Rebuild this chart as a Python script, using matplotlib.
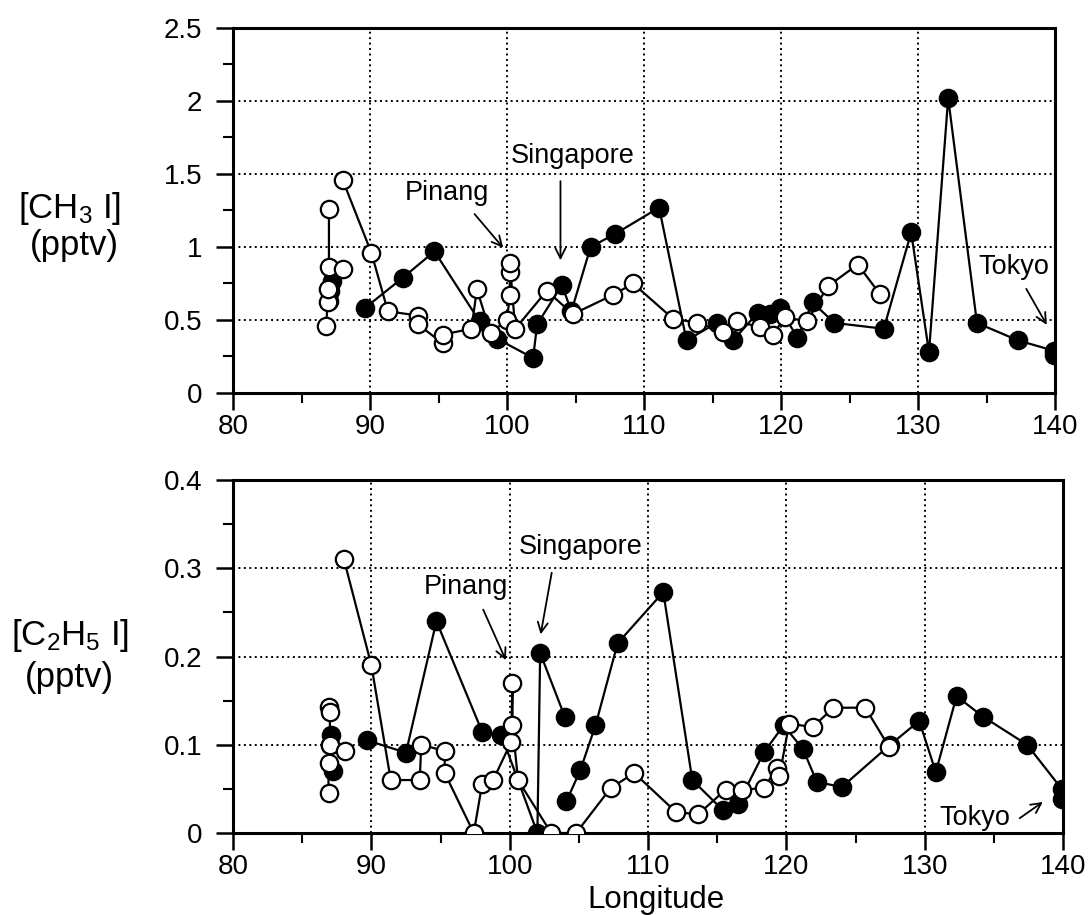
import matplotlib.pyplot as plt
import numpy as np
from matplotlib.ticker import MultipleLocator, FormatStrFormatter

plt.rcParams['font.family'] = ['Liberation Sans', 'DejaVu Sans']
plt.rcParams['mathtext.default'] = 'regular'

nan = np.nan

# CH3I (top panel)
ch3i_filled_lon = [87.0, 87.1, 87.2, nan, 89.6, 92.4, 94.7, 98.0, 99.3, 101.9, 102.2, 104.0, 104.7,
                   106.1, 107.9, 111.1, 113.1, 115.3, 116.5, 118.3, 119.2, 119.9, 121.2, 122.3,
                   123.9, 127.5, 129.5, 130.8, 132.2, 134.3, 137.3, 139.9, 139.9]
ch3i_filled_val = [0.63, 0.70, 0.77, nan, 0.58, 0.79, 0.97, 0.49, 0.37, 0.24, 0.47, 0.74, 0.56,
                   1.00, 1.09, 1.27, 0.36, 0.48, 0.36, 0.55, 0.54, 0.58, 0.38, 0.62,
                   0.48, 0.44, 1.10, 0.28, 2.02, 0.48, 0.36, 0.29, 0.26]
ch3i_open_lon = [86.8, 86.9, 86.9, 87.0, 87.0, nan, 88.0, nan, 88.0, 90.1, 91.3, 93.5, 93.5, 95.3,
                 95.3, 97.4, 97.8, 98.8, 100.0, 100.2, 100.2, 100.2, 100.6, 102.9, 104.8, 107.7,
                 109.2, 112.1, 113.9, 115.8, 116.8, 118.5, 119.4, 120.3, 121.9, 123.4, 125.6, 127.2]
ch3i_open_val = [0.46, 0.62, 0.71, 0.86, 1.26, nan, 0.85, nan, 1.46, 0.96, 0.56, 0.53, 0.47, 0.34,
                 0.40, 0.44, 0.71, 0.41, 0.50, 0.67, 0.83, 0.89, 0.44, 0.70, 0.54, 0.67,
                 0.75, 0.51, 0.48, 0.42, 0.49, 0.45, 0.40, 0.52, 0.49, 0.73, 0.88, 0.68]

# C2H5I (bottom panel)
c2h5i_filled_lon = [87.0, 87.1, 87.2, nan, 89.7, 92.5, 94.7, 98.0, 99.4, 102.0, 102.2, 104.0, nan,
                    104.1, 105.1, 106.2, 107.8, 111.1, 113.2, 115.4, 116.5, 118.4, 119.8, 121.2,
                    122.2, 124.0, 127.5, 129.6, 130.8, 132.3, 134.2, 137.4, 139.9, 139.9]
c2h5i_filled_val = [0.100, 0.111, 0.070, nan, 0.105, 0.091, 0.240, 0.115, 0.111, 0.000, 0.204, 0.131, nan,
                    0.036, 0.071, 0.122, 0.215, 0.273, 0.060, 0.026, 0.033, 0.092, 0.122, 0.095,
                    0.058, 0.052, 0.100, 0.127, 0.069, 0.155, 0.132, 0.100, 0.050, 0.039]
c2h5i_open_lon = [86.9, 87.0, 87.0, 86.9, 86.9, nan, 88.1, nan, 88.0, 90.0, 91.4, 93.5, 93.6, 95.3,
                  95.3, 97.4, 98.0, 98.8, 100.1, 100.2, 100.2, 100.6, 103.0, 104.8, 107.3, 109.0,
                  112.0, 113.6, 115.6, 116.8, 118.4, 119.3, 119.5, 120.2, 121.9, 123.4, 125.7, 127.4]
c2h5i_open_val = [0.143, 0.137, 0.100, 0.079, 0.045, nan, 0.093, nan, 0.311, 0.190, 0.060, 0.060, 0.100, 0.093,
                  0.068, 0.000, 0.055, 0.060, 0.103, 0.170, 0.122, 0.060, 0.000, 0.000, 0.051, 0.068,
                  0.024, 0.021, 0.049, 0.049, 0.051, 0.074, 0.065, 0.124, 0.120, 0.142, 0.142, 0.098]

fig = plt.figure(figsize=(10.89, 9.15), dpi=100)
ax1 = fig.add_axes([0.214, 0.5705, 0.7548, 0.3989])
ax2 = fig.add_axes([0.214, 0.0896, 0.7622, 0.3858])


def draw(ax, flon, fval, olon, oval, ymax, ymaj, ymin):
    ax.plot(flon, fval, '-o', color='black', lw=1.6, ms=12.5, mfc='black', mec='black', mew=1.6, zorder=3)
    ax.plot(olon, oval, '-o', color='black', lw=1.6, ms=12.5, mfc='white', mec='black', mew=1.6, zorder=4)
    ax.set_xlim(80, 140)
    ax.set_ylim(0, ymax)
    ax.xaxis.set_major_locator(MultipleLocator(10))
    ax.xaxis.set_minor_locator(MultipleLocator(5))
    ax.yaxis.set_major_locator(MultipleLocator(ymaj))
    ax.yaxis.set_minor_locator(MultipleLocator(ymin))
    ax.yaxis.set_major_formatter(FormatStrFormatter('%g'))
    ax.tick_params(axis='both', which='major', direction='out', length=12, width=1.8, labelsize=20)
    ax.tick_params(axis='both', which='minor', direction='out', length=7, width=1.5)
    ax.tick_params(axis='x', pad=3)
    ax.tick_params(axis='y', pad=10)
    ax.grid(True, which='major', color='black', linestyle=(0, (1, 1.8)), linewidth=1.4)
    for s in ax.spines.values():
        s.set_linewidth(2.2)
    ax.set_axisbelow(True)


draw(ax1, ch3i_filled_lon, ch3i_filled_val, ch3i_open_lon, ch3i_open_val, 2.5, 0.5, 0.25)
draw(ax2, c2h5i_filled_lon, c2h5i_filled_val, c2h5i_open_lon, c2h5i_open_val, 0.4, 0.1, 0.05)

arrow = dict(arrowstyle='->', color='black', lw=1.3, mutation_scale=18)
fs = 19.5

# top annotations
ax1.annotate('', xy=(99.85, 0.98), xytext=(97.5, 1.24), arrowprops=arrow)
ax1.text(95.6, 1.37, 'Pinang', fontsize=fs, ha='center', va='center')
ax1.annotate('', xy=(103.9, 0.89), xytext=(103.9, 1.47), arrowprops=arrow)
ax1.text(104.8, 1.62, 'Singapore', fontsize=fs, ha='center', va='center')
ax1.annotate('', xy=(139.5, 0.45), xytext=(137.8, 0.73), arrowprops=arrow)
ax1.text(137.0, 0.86, 'Tokyo', fontsize=fs, ha='center', va='center')

# bottom annotations
ax2.annotate('', xy=(99.8, 0.193), xytext=(98.0, 0.256), arrowprops=arrow)
ax2.text(96.85, 0.279, 'Pinang', fontsize=fs, ha='center', va='center')
ax2.annotate('', xy=(102.2, 0.222), xytext=(103.07, 0.298), arrowprops=arrow)
ax2.text(105.1, 0.324, 'Singapore', fontsize=fs, ha='center', va='center')
ax2.annotate('', xy=(138.7, 0.037), xytext=(136.7, 0.015), arrowprops=arrow)
ax2.text(133.6, 0.017, 'Tokyo', fontsize=fs, ha='center', va='center')

# y labels
fig.text(0.064, 0.772, '[CH$_3$ I]', fontsize=25, ha='center', va='center')
fig.text(0.068, 0.732, '(pptv)', fontsize=25, ha='center', va='center')
fig.text(0.064, 0.306, '[C$_2$H$_5$ I]', fontsize=25, ha='center', va='center')
fig.text(0.064, 0.260, '(pptv)', fontsize=25, ha='center', va='center')
fig.text(0.602, 0.016, 'Longitude', fontsize=22.5, ha='center', va='center')

fig.savefig('out.png', dpi=100)
